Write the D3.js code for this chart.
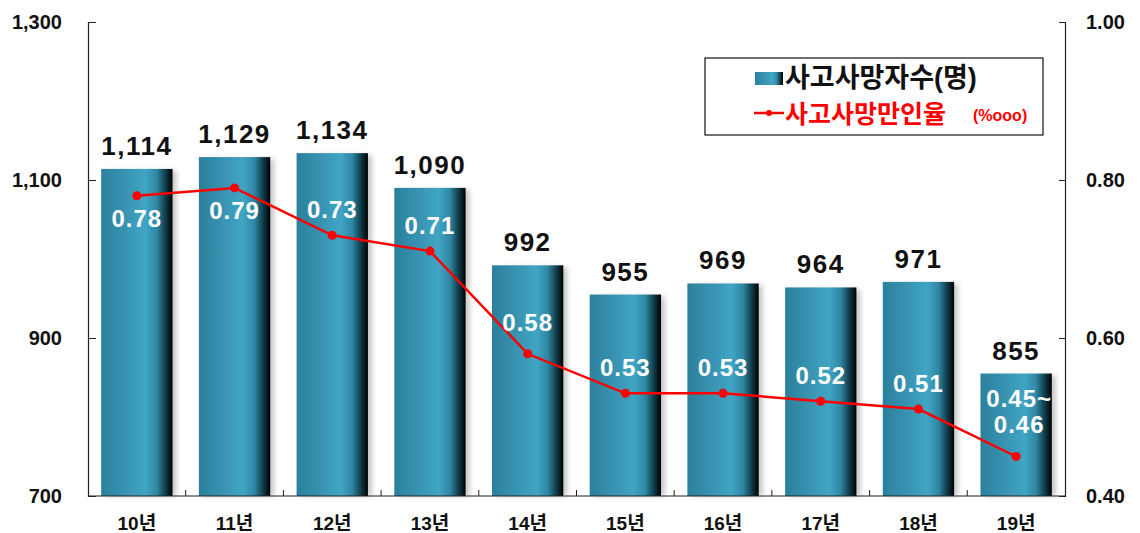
<!DOCTYPE html>
<html><head><meta charset="utf-8">
<script src="https://cdn.jsdelivr.net/npm/d3@7"></script>
<style>
body{margin:0;background:#fff;}
svg{display:block;font-family:"Liberation Sans","Noto Sans CJK KR",sans-serif;}
</style></head>
<body><svg id="c" width="1140" height="533"></svg>
<script>
const categories = ["10년","11년","12년","13년","14년","15년","16년","17년","18년","19년"];
const deaths = [1114,1129,1134,1090,992,955,969,964,971,855];
const rates = [0.78,0.79,0.73,0.71,0.58,0.53,0.53,0.52,0.51,0.45];
const rateLabels = ["0.78","0.79","0.73","0.71","0.58","0.53","0.53","0.52","0.51","0.45~\n0.46"];
const leftTicks = [700,900,1100,1300];
const rightTicks = [0.40,0.60,0.80,1.00];
const seriesNames = ["사고사망자수(명)","사고사망만인율"];
const unitLabel = "(%ooo)";

const svg = d3.select("#c");
const L = 88, R = 1065, T = 22, B = 496;

const x = d3.scaleBand().domain(categories).range([L,R]).paddingInner(0.27).paddingOuter(0.135);
const xb = d3.scaleBand().domain(categories).range([L,R]);
const yL = d3.scaleLinear().domain([700,1300]).range([B,T]);
const yR = d3.scaleLinear().domain([0.4,1.0]).range([B,T]);

const defs = svg.append("defs");
const g = defs.append("linearGradient").attr("id","barG").attr("x1","0").attr("x2","1").attr("y1","0").attr("y2","0");
[[0,"#2b809c"],[0.35,"#3894b2"],[0.62,"#40a5c4"],[0.78,"#2f87a3"],[0.88,"#14495a"],[1,"#000"]].forEach(s=>g.append("stop").attr("offset",s[0]).attr("stop-color",s[1]));
const sh = defs.append("filter").attr("id","sh").attr("x","-20%").attr("width","150%");
sh.append("feGaussianBlur").attr("stdDeviation",2.5);

// shadows
svg.append("g").selectAll("rect").data(deaths).join("rect")
  .attr("x",(d,i)=>x(categories[i])+4).attr("y",d=>yL(d)+2)
  .attr("width",x.bandwidth()).attr("height",d=>B-yL(d)-2)
  .attr("fill","#999").attr("opacity",0.55).attr("filter","url(#sh)");
// bars
svg.append("g").selectAll("rect").data(deaths).join("rect")
  .attr("x",(d,i)=>x(categories[i])).attr("y",d=>yL(d))
  .attr("width",x.bandwidth()).attr("height",d=>B-yL(d))
  .attr("fill","url(#barG)");

// axes
const axL = svg.append("g").attr("transform",`translate(${L},0)`)
  .call(d3.axisRight(yL).tickValues(leftTicks).tickSize(8).tickFormat(d3.format(",")));
axL.selectAll("text").remove();
const axR = svg.append("g").attr("transform",`translate(${R},0)`)
  .call(d3.axisLeft(yR).tickValues(rightTicks).tickSize(6).tickFormat(d3.format(".2f")));
axR.selectAll("text").remove();
[axL,axR].forEach(a=>{a.select(".domain").attr("stroke","#222").attr("stroke-width",1.2);a.selectAll(".tick line").attr("stroke","#222");});

svg.append("g").selectAll("text").data(leftTicks).join("text")
  .attr("x",62).attr("y",d=>yL(d)+7).attr("text-anchor","end")
  .attr("font-size",20).attr("font-weight","bold").attr("fill","#111").text(d=>d3.format(",")(d));
svg.append("g").selectAll("text").data(rightTicks).join("text")
  .attr("x",1086).attr("y",d=>yR(d)+7).attr("text-anchor","start")
  .attr("font-size",20).attr("font-weight","bold").attr("fill","#111").text(d=>d3.format(".2f")(d));

// x axis
svg.append("line").attr("x1",L).attr("x2",R).attr("y1",B).attr("y2",B).attr("stroke","#222").attr("stroke-width",1.2);
svg.append("g").selectAll("line").data(categories.slice(1)).join("line")
  .attr("x1",d=>xb(d)).attr("x2",d=>xb(d)).attr("y1",B).attr("y2",B-6).attr("stroke","#222");
svg.append("g").selectAll("text").data(categories).join("text")
  .attr("x",d=>xb(d)+xb.bandwidth()/2).attr("y",530).attr("text-anchor","middle")
  .attr("font-size",19).attr("font-weight","bold").attr("fill","#111").text(d=>d);

// bar value labels
svg.append("g").selectAll("text").data(deaths).join("text")
  .attr("x",(d,i)=>xb(categories[i])+xb.bandwidth()/2).attr("y",d=>yL(d)-14)
  .attr("text-anchor","middle").attr("font-size",26).attr("letter-spacing",1.5).attr("font-weight","bold").attr("fill","#111")
  .text(d=>d3.format(",")(d));

// line
const cx = i=>xb(categories[i])+xb.bandwidth()/2;
svg.append("path").datum(rates)
  .attr("d",d3.line().x((d,i)=>cx(i)).y(d=>yR(d)))
  .attr("fill","none").attr("stroke","#f00").attr("stroke-width",2.5);
svg.append("g").selectAll("circle").data(rates).join("circle")
  .attr("cx",(d,i)=>cx(i)).attr("cy",d=>yR(d)).attr("r",4.5).attr("fill","#f00");

// rate labels
const lab = svg.append("g");
rates.forEach((d,i)=>{
  const lines = rateLabels[i].split("\n");
  let y0;
  if (i<2) y0 = yR(d)+31;
  else if (lines.length>1) y0 = yR(d)-50;
  else y0 = yR(d)-(i===4?23:17);
  lines.forEach((t,k)=>{
    lab.append("text").attr("x",cx(i)+(lines.length>1?3:0)).attr("y",y0+k*26)
      .attr("text-anchor","middle").attr("font-size",24).attr("letter-spacing",1).attr("font-weight","bold").attr("fill","#fff").text(t);
  });
});

// legend
const lg = svg.append("g");
lg.append("rect").attr("x",705).attr("y",58).attr("width",338).attr("height",77).attr("fill","#fff").attr("stroke","#111").attr("stroke-width",1.2);
lg.append("rect").attr("x",755).attr("y",72).attr("width",28).attr("height",13).attr("fill","url(#barG)");
lg.append("text").attr("x",785).attr("y",87).attr("font-size",27).attr("font-weight","bold").attr("fill","#111").text(seriesNames[0]);
lg.append("line").attr("x1",754).attr("x2",784).attr("y1",113).attr("y2",113).attr("stroke","#f00").attr("stroke-width",2.5);
lg.append("circle").attr("cx",769).attr("cy",113).attr("r",3).attr("fill","#f00");
lg.append("text").attr("x",785).attr("y",123).attr("font-size",25).attr("font-weight","bold").attr("fill","#f00").text(seriesNames[1]);
lg.append("text").attr("x",973).attr("y",121).attr("font-size",16).attr("font-weight","bold").attr("fill","#f00").text(unitLabel);
</script></body></html>
